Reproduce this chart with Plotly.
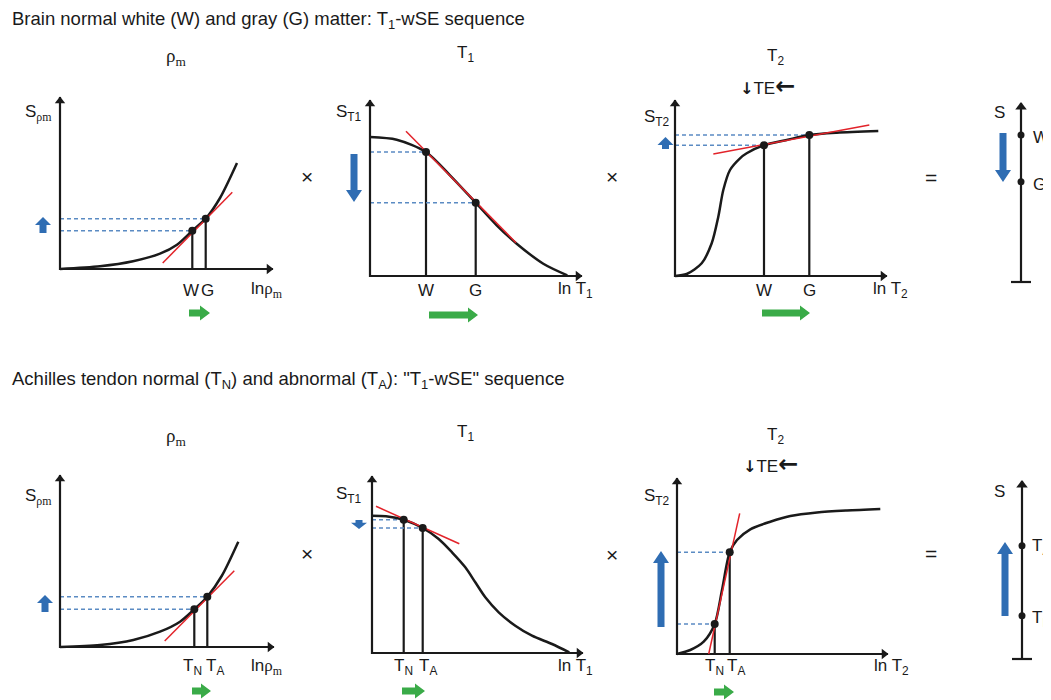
import math
import plotly.graph_objects as go

# the page puts the figure 8px in from the window corner; size it so that it fills the rest
PAD = 8
FIG_W, FIG_H = 1051 - PAD, 700 - PAD

# ---- values (panel units ~ px from each axis origin) ----

# row 1: brain white (W) / gray (G) matter
brain_labels = ["W", "G"]

brain_rho_x = [0, 40, 73, 100, 117, 132.3, 145.7, 160, 177]
brain_rho_y = [0, 2.7, 7.7, 15.3, 24.3, 38.3, 50.3, 71, 106]
brain_rho_pts_x = [132.3, 145.7]
brain_rho_pts_y = [38.3, 50.3]
brain_rho_tan_x = [102.7, 172.3]
brain_rho_tan_y = [6, 76.7]

brain_t1_x = [0, 26.7, 56, 80, 105.7, 126.7, 146.7, 173.3, 197.3]
brain_t1_y = [139, 136.3, 124, 100.7, 73.3, 50.7, 32.3, 12.3, 0.7]
brain_t1_pts_x = [56, 105.7]
brain_t1_pts_y = [124, 73.3]
brain_t1_tan_x = [36, 146]
brain_t1_tan_y = [144.7, 33.3]

brain_t2_x = [0, 11.7, 26.7, 36.7, 43.3, 48.3, 55, 65, 71.7, 89, 111.7, 134.3, 161.7, 203.3]
brain_t2_y = [0, 2, 12.7, 32.7, 59.3, 86, 106, 117.7, 122.7, 130.7, 136, 141, 143.3, 145]
brain_t2_pts_x = [89, 134.3]
brain_t2_pts_y = [130.7, 141]
brain_t2_tan_x = [38.3, 194.3]
brain_t2_tan_y = [122, 151]

brain_s_pts_y = [147, 100.3]

# row 2: Achilles tendon normal (TN) / abnormal (TA)
tendon_labels = ["T<sub>N</sub>", "T<sub>A</sub>"]

tendon_rho_x = [0, 40, 73.3, 100, 120, 134.3, 147.3, 161.7, 178.3]
tendon_rho_y = [0, 2, 7, 15.3, 25.3, 37.7, 50.3, 71, 105.3]
tendon_rho_pts_x = [134.3, 147.3]
tendon_rho_pts_y = [37.7, 50.3]
tendon_rho_tan_x = [104.7, 174.3]
tendon_rho_tan_y = [6, 76.3]

tendon_t1_x = [0, 14, 31.7, 50.7, 66.7, 80, 93.3, 103.3, 113.3, 126.7, 143.3, 160, 180, 197.3]
tendon_t1_y = [137.3, 136.8, 133.3, 125, 114, 100.7, 85.7, 70.7, 55.7, 40.7, 27.3, 17.3, 9, 0.7]
tendon_t1_pts_x = [31.7, 50.7]
tendon_t1_pts_y = [133.3, 125]
tendon_t1_tan_x = [4, 87.3]
tendon_t1_tan_y = [146.7, 109.3]

tendon_t2_x = [0, 13.3, 26.7, 37.7, 45, 52.7, 60, 73.3, 93.3, 113.3, 140, 170, 203.3]
tendon_t2_y = [0, 4, 12.3, 30, 64, 101.7, 114, 124.7, 132.3, 138, 141.5, 143.5, 145]
tendon_t2_pts_x = [37.7, 52.7]
tendon_t2_pts_y = [30, 101.7]
tendon_t2_tan_x = [31.7, 62.7]
tendon_t2_tan_y = [0, 140.7]

tendon_s_pts_y = [43.3, 113.3]

SANS = "Liberation Sans, Arial, sans-serif"
SERIF = "Liberation Serif, Times New Roman, serif"
BLUE = "#2f6db3"
GREEN = "#3aab48"
RED = "#e2232a"
DASH = "#5b8bc3"
INK = "#1a1a1a"

rho_sub = f"<span style='font-family:{SERIF}'>ρm</span>"
rho_title = f"<span style='font-family:{SERIF}'>ρ<sub>m</sub></span>"
rho_axis = f"ln<span style='font-family:{SERIF}'>ρ<sub>m</sub></span>"

panels = [
    # row 1
    dict(kind="plot", origin=(60, 269), w=213, h=172, cx=brain_rho_x, cy=brain_rho_y,
         px=brain_rho_pts_x, py=brain_rho_pts_y, tx=brain_rho_tan_x, ty=brain_rho_tan_y,
         labels=brain_labels, label_x=[131, 147], label_y=-21,
         xname=rho_axis, xname_pos=(207, -21),
         yname=f"S<sub>{rho_sub}</sub>", yname_pos=(-22, 156),
         title=rho_title, title_pos=(116, 212),
         blue=(-17, 36, 52), green=(-44, 129, 150), op=("×", 247, 93)),
    dict(kind="plot", origin=(370, 276), w=212, h=176, cx=brain_t1_x, cy=brain_t1_y,
         px=brain_t1_pts_x, py=brain_t1_pts_y, tx=brain_t1_tan_x, ty=brain_t1_tan_y,
         labels=brain_labels, label_x=brain_t1_pts_x, label_y=-14,
         xname="ln T<sub>1</sub>", xname_pos=(205, -14),
         yname="S<sub>T1</sub>", yname_pos=(-21, 163),
         title="T<sub>1</sub>", title_pos=(95, 222),
         blue=(-16, 122, 74), green=(-39, 59, 108), op=("×", 242, 100)),
    dict(kind="plot", origin=(675, 276), w=212, h=176, cx=brain_t2_x, cy=brain_t2_y,
         px=brain_t2_pts_x, py=brain_t2_pts_y, tx=brain_t2_tan_x, ty=brain_t2_tan_y,
         labels=brain_labels, label_x=brain_t2_pts_x, label_y=-14,
         xname="ln T<sub>2</sub>", xname_pos=(215, -14),
         yname="S<sub>T2</sub>", yname_pos=(-18, 158),
         title="T<sub>2</sub>", title_pos=(100, 219), te_pos=(92, 190),
         blue=(-9.5, 127, 139), green=(-37, 87, 135), op=("=", 256, 99)),
    dict(kind="scale", origin=(1021, 282), h=179, py=brain_s_pts_y,
         labels=brain_labels, label_dx=10, label_dy=[-3, -3],
         yname_pos=(-22, 169), blue=(-18, 149, 100)),
    # row 2
    dict(kind="plot", origin=(60, 647), w=214, h=172, cx=tendon_rho_x, cy=tendon_rho_y,
         px=tendon_rho_pts_x, py=tendon_rho_pts_y, tx=tendon_rho_tan_x, ty=tendon_rho_tan_y,
         labels=tendon_labels, label_x=[132, 155], label_y=-20,
         xname=rho_axis, xname_pos=(207, -20),
         yname=f"S<sub>{rho_sub}</sub>", yname_pos=(-22, 150),
         title=rho_title, title_pos=(116, 210),
         blue=(-15, 35, 52), green=(-44, 132, 151), op=("×", 247, 94)),
    dict(kind="plot", origin=(372, 653), w=211, h=177, cx=tendon_t1_x, cy=tendon_t1_y,
         px=tendon_t1_pts_x, py=tendon_t1_pts_y, tx=tendon_t1_tan_x, ty=tendon_t1_tan_y,
         labels=tendon_labels, label_x=[31, 56], label_y=-14,
         xname="ln T<sub>1</sub>", xname_pos=(203, -14),
         yname="S<sub>T1</sub>", yname_pos=(-23, 158),
         title="T<sub>1</sub>", title_pos=(93, 220),
         blue=(-13, 133, 124), green=(-38, 30, 53), op=("×", 240, 99)),
    dict(kind="plot", origin=(677, 654), w=211, h=176, cx=tendon_t2_x, cy=tendon_t2_y,
         px=tendon_t2_pts_x, py=tendon_t2_pts_y, tx=tendon_t2_tan_x, ty=tendon_t2_tan_y,
         labels=tendon_labels, label_x=[37, 59], label_y=-13,
         xname="ln T<sub>2</sub>", xname_pos=(214, -13),
         yname="S<sub>T2</sub>", yname_pos=(-20, 157),
         title="T<sub>2</sub>", title_pos=(98, 218), te_pos=(93, 190),
         blue=(-16, 27, 103), green=(-38, 37, 57), op=("=", 254, 101)),
    dict(kind="scale", origin=(1022, 659), h=178, py=tendon_s_pts_y,
         labels=tendon_labels, label_dx=8, label_dy=[-3, -1],
         yname_pos=(-23, 168), blue=(-17, 43, 117)),
]


def block_arrow(x0, y0, x1, y1, shaft=7.0, head=16.0, head_len=11.0):
    dx, dy = x1 - x0, y1 - y0
    length = math.hypot(dx, dy)
    ux, uy = dx / length, dy / length
    nx, ny = -uy, ux
    hl = min(head_len, 0.7 * length)
    bx, by = x1 - ux * hl, y1 - uy * hl
    pts = [
        (x0 + nx * shaft / 2, y0 + ny * shaft / 2),
        (bx + nx * shaft / 2, by + ny * shaft / 2),
        (bx + nx * head / 2, by + ny * head / 2),
        (x1, y1),
        (bx - nx * head / 2, by - ny * head / 2),
        (bx - nx * shaft / 2, by - ny * shaft / 2),
        (x0 - nx * shaft / 2, y0 - ny * shaft / 2),
    ]
    xs = [p[0] for p in pts] + [pts[0][0]]
    ys = [p[1] for p in pts] + [pts[0][1]]
    return xs, ys


fig = go.Figure()
annotations = []
axes = {}


def text(s, x, y, xr, yr, size=17, family=SANS, xanchor="center"):
    annotations.append(dict(text=s, x=x, y=y, xref=xr, yref=yr, showarrow=False,
                            xanchor=xanchor, yanchor="middle",
                            font=dict(family=family, size=size, color=INK)))


for i, p in enumerate(panels, start=1):
    ox, oy = p["origin"]
    ox, oy = ox - PAD, oy - PAD
    w = p.get("w", 0)
    h = p["h"]
    # wide enough to hold the operator sign that follows the panel
    x0, x1 = -50, min(w + 60, FIG_W - ox)
    y0, y1 = max(-60, -(FIG_H - oy)), h + 60
    sfx = "" if i == 1 else str(i)
    xr, yr = "x" + sfx, "y" + sfx
    axes["xaxis" + sfx] = dict(domain=[max(0, (ox + x0) / FIG_W), min(1, (ox + x1) / FIG_W)],
                               range=[x0, x1], visible=False, fixedrange=True, anchor=yr)
    axes["yaxis" + sfx] = dict(domain=[max(0, 1 - (oy - y0) / FIG_H), min(1, 1 - (oy - y1) / FIG_H)],
                               range=[y0, y1], visible=False, fixedrange=True, anchor=xr)

    def add(**kw):
        fig.add_trace(go.Scatter(xaxis=xr, yaxis=yr, hoverinfo="skip", showlegend=False, **kw))

    bx, by_tail, by_head = p["blue"]
    ax_, ay_ = block_arrow(bx, by_tail, bx, by_head, shaft=7, head=16,
                           head_len=12 if abs(by_head - by_tail) > 30 else 8)
    add(x=ax_, y=ay_, mode="lines", fill="toself", fillcolor=BLUE, line=dict(width=0, color=BLUE))

    if p["kind"] == "scale":
        add(x=[0, 0], y=[0, h], mode="lines", line=dict(color=INK, width=2.2))
        add(x=[-10, 10], y=[0, 0], mode="lines", line=dict(color=INK, width=2.2))
        add(x=[0], y=[h - 4], mode="markers",
            marker=dict(symbol="triangle-up", size=10, color=INK))
        add(x=[0, 0], y=p["py"], mode="markers", marker=dict(size=7, color=INK))
        for lab, yy, dy in zip(p["labels"], p["py"], p["label_dy"]):
            text(lab, p["label_dx"], yy + dy, xr, yr, xanchor="left")
        text("S", p["yname_pos"][0], p["yname_pos"][1], xr, yr)
        continue

    # dashed guides and vertical drops
    for px_, py_ in zip(p["px"], p["py"]):
        add(x=[0, px_], y=[py_, py_], mode="lines", line=dict(color=DASH, width=1.5, dash="4px,3px"))
        add(x=[px_, px_], y=[0, py_], mode="lines", line=dict(color=INK, width=2.2))
    # axes with arrow tips
    add(x=[0, 0, w], y=[h, 0, 0], mode="lines", line=dict(color=INK, width=2.2))
    add(x=[0], y=[h - 4], mode="markers", marker=dict(symbol="triangle-up", size=9, color=INK))
    add(x=[w - 4], y=[0], mode="markers", marker=dict(symbol="triangle-right", size=9, color=INK))
    # response curve, tangent, sample points
    add(x=p["cx"], y=p["cy"], mode="lines", line=dict(color=INK, width=2.5, shape="spline", smoothing=0.8))
    add(x=p["tx"], y=p["ty"], mode="lines", line=dict(color=RED, width=1.5))
    add(x=p["px"], y=p["py"], mode="markers", marker=dict(size=8, color=INK))
    # green shift arrow
    gy, gx_tail, gx_head = p["green"]
    gx, gyy = block_arrow(gx_tail, gy, gx_head, gy, shaft=7, head=15, head_len=10)
    add(x=gx, y=gyy, mode="lines", fill="toself", fillcolor=GREEN, line=dict(width=0, color=GREEN))

    for lab, lx in zip(p["labels"], p["label_x"]):
        text(lab, lx, p["label_y"], xr, yr)
    text(p["xname"], p["xname_pos"][0], p["xname_pos"][1], xr, yr)
    text(p["yname"], p["yname_pos"][0], p["yname_pos"][1], xr, yr)
    title_family = SERIF if "ρ" in p["title"] else SANS
    title_size = 19 if "ρ" in p["title"] else 17
    text(p["title"], p["title_pos"][0], p["title_pos"][1], xr, yr, size=title_size, family=title_family)
    if "te_pos" in p:
        text("<span style='font-family:DejaVu Sans;font-size:16px'><b>↓</b></span>TE"
             "<span style='font-family:DejaVu Sans;font-size:24px'><b>←</b></span>",
             p["te_pos"][0], p["te_pos"][1], xr, yr)
    op, opx, opy = p["op"]
    text(op, opx, opy, xr, yr, size=21)

row_titles = [
    ("Brain normal white (W) and gray (G) matter: T<sub>1</sub>-wSE sequence", 20),
    ("Achilles tendon normal (T<sub>N</sub>) and abnormal (T<sub>A</sub>): \"T<sub>1</sub>-wSE\" sequence", 380),
]
for label, ypix in row_titles:
    annotations.append(dict(text=label, x=(10 - PAD) / FIG_W, y=1 - (ypix - PAD) / FIG_H,
                            xref="paper", yref="paper", showarrow=False,
                            xanchor="left", yanchor="middle",
                            font=dict(family=SANS, size=18.5, color=INK)))

fig.update_layout(width=FIG_W, height=FIG_H, margin=dict(l=0, r=0, t=0, b=0),
                  paper_bgcolor="white", plot_bgcolor="rgba(0,0,0,0)",
                  showlegend=False, annotations=annotations, **axes)

fig.write_html("out.html")
